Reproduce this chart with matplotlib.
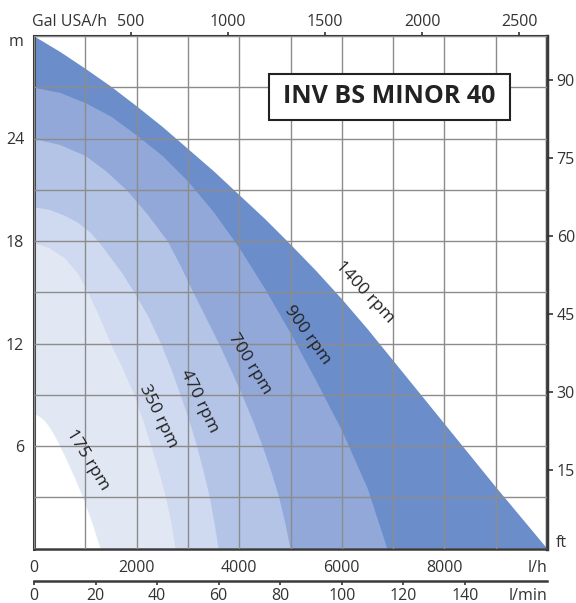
import matplotlib.pyplot as plt
from matplotlib.patches import Rectangle

# pump curves: flow in l/h, head in m
q_1400 = [0, 500, 1000, 1500, 2000, 2500, 3000, 3500, 4000, 4500, 5000,
          5500, 6000, 6500, 7000, 7500, 8000, 8500, 9000, 9500, 10000]
h_1400 = [30, 29.1, 28.1, 27.05, 25.9, 24.7, 23.4, 22.1, 20.7, 19.3, 17.8,
          16.25, 14.6, 12.85, 11.0, 9.15, 7.3, 5.45, 3.6, 1.8, 0]
q_900 = [0, 500, 1000, 1500, 2000, 2500, 3000, 3500, 4000, 4500, 5000,
         5500, 6000, 6500, 6880]
h_900 = [27, 26.7, 26.1, 25.3, 24.2, 23.0, 21.5, 19.7, 17.6, 15.2, 12.6,
         9.8, 6.9, 3.5, 0]
q_700 = [0, 500, 1000, 1400, 1800, 2200, 2600, 2860, 3100, 3350, 3600,
         3830, 4050, 4260, 4450, 4620, 4770, 4890, 4990]
h_700 = [24, 23.65, 23, 22.1, 21, 19.6, 18, 16.5, 15, 13.5, 12,
         10.5, 9, 7.5, 6, 4.5, 3, 1.5, 0]
q_470 = [0, 300, 600, 850, 1100, 1300, 1500, 1720, 1950, 2220, 2470,
         2670, 2850, 3020, 3170, 3300, 3420, 3510, 3590]
h_470 = [20.0, 19.85, 19.5, 19.1, 18.5, 17.8, 17, 16.1, 15, 13.6, 12,
         10.5, 9, 7.5, 6, 4.5, 3, 1.5, 0]
q_350 = [0, 300, 600, 850, 1050, 1280, 1490, 1730, 1950, 2120, 2280,
         2430, 2565, 2670, 2750]
h_350 = [17.9, 17.6, 17.0, 16.1, 15, 13.5, 12, 10.5, 9, 7.5, 6,
         4.5, 3, 1.5, 0]
q_175 = [0, 100, 200, 300, 400, 500, 600, 780, 950, 1130, 1290]
h_175 = [7.9, 7.75, 7.5, 7.1, 6.6, 6.0, 5.4, 4.2, 3, 1.5, 0]

speeds = ['1400 rpm', '900 rpm', '700 rpm', '470 rpm', '350 rpm', '175 rpm']
label_q = [6450, 5320, 4210, 3220, 2420, 1040]
label_h = [15.0, 12.5, 10.8, 8.6, 7.75, 5.2]
label_rot = [-47, -54.5, -58.5, -64, -64, -58.6]

lh_ticks = [0, 2000, 4000, 6000, 8000]
m_ticks = [6, 12, 18, 24]
ft_ticks = [15, 30, 45, 60, 75, 90]
gal_ticks = [500, 1000, 1500, 2000, 2500]
lmin_ticks = [0, 20, 40, 60, 80, 100, 120, 140]

colors = ['#6b8dca', '#91a8d9', '#b4c4e6', '#cfd9ef', '#e2e7f4', 'white']

plt.rcParams['font.family'] = ['Open Sans', 'DejaVu Sans']
txt = '#333333'


def main():
    fig = plt.figure(figsize=(5.76, 6.03), dpi=100)
    ax = fig.add_axes([34 / 576, 54.5 / 603, 513 / 576, 512.5 / 603])
    ax.set_xlim(0, 10000)
    ax.set_ylim(0, 30)

    curves = [(q_1400, h_1400), (q_900, h_900), (q_700, h_700),
              (q_470, h_470), (q_350, h_350), (q_175, h_175)]
    for (q, h), c in zip(curves, colors):
        ax.fill_between(q, h, 0, color=c, lw=0, zorder=1)

    for s, q, h, r in zip(speeds, label_q, label_h, label_rot):
        ax.text(q, h, s, rotation=r, ha='center', va='center',
                fontsize=12.5, color='#222222', zorder=4,
                rotation_mode='anchor')

    # grid every 1000 l/h and 3 m
    ax.set_xticks(range(0, 10001, 1000))
    ax.set_xticklabels([str(v) if v in lh_ticks else '' for v in range(0, 10001, 1000)][:-1] + ['l/h'])
    ax.set_yticks(range(0, 31, 3))
    ax.set_yticklabels([str(v) if v in m_ticks else '' for v in range(0, 31, 3)])
    ax.grid(True, color='#8c8c8c', lw=1)
    ax.set_axisbelow(False)
    ax.tick_params(length=0, labelsize=11.5, colors=txt)
    ax.tick_params(axis='x', pad=8)
    ax.tick_params(axis='y', pad=7)
    ax.get_xticklabels()[-1].set_ha('right')
    ax.text(-0.02, 0.988, 'm', transform=ax.transAxes, ha='right', va='center',
            fontsize=11.5, color=txt)

    for side, lw in [('left', 2.2), ('bottom', 1.8), ('top', 1.5), ('right', 2.5)]:
        ax.spines[side].set_linewidth(lw)
        ax.spines[side].set_color('#3a3a3a')

    # right axis in feet
    axr = ax.twinx()
    axr.set_ylim(0, 30 / 0.3048)
    axr.set_yticks(ft_ticks)
    axr.tick_params(axis='y', length=4, width=1.2, colors=txt, labelsize=11.5, pad=3)
    for side in ['left', 'top', 'bottom', 'right']:
        axr.spines[side].set_visible(False)
    ax.text(1.017, 0.011, 'ft', transform=ax.transAxes, ha='left', va='center',
            fontsize=11.5, color=txt)

    # top axis in US gallons per hour
    axt = ax.twiny()
    axt.set_xlim(0, 10000 / 3.78541)
    axt.set_xticks(gal_ticks)
    axt.tick_params(axis='x', length=3, width=1.2, colors=txt, labelsize=11.5, pad=1.5)
    for side in ['left', 'top', 'bottom', 'right']:
        axt.spines[side].set_visible(False)
    axt.text(0.07, 1.028, 'Gal USA/h', transform=ax.transAxes, ha='center',
             va='center', fontsize=11.5, color=txt)

    # bottom axis in l/min
    axb = ax.twiny()
    axb.set_xlim(0, 10000 / 60)
    axb.xaxis.set_ticks_position('bottom')
    axb.spines['bottom'].set_position(('outward', 23.4))
    axb.spines['bottom'].set_linewidth(1.8)
    axb.spines['bottom'].set_color('#3a3a3a')
    for side in ['left', 'top', 'right']:
        axb.spines[side].set_visible(False)
    axb.set_xticks(lmin_ticks)
    axb.tick_params(axis='x', length=3, width=1.2, colors=txt, labelsize=11.5, pad=2)
    axb.text(1.0, -0.092, 'l/min', transform=ax.transAxes, ha='right',
             va='center', fontsize=11.5, color=txt)

    ax.add_patch(Rectangle((0.458, 0.836), 0.470, 0.0898, transform=ax.transAxes,
                           facecolor='white', edgecolor='#222222', lw=1.5, zorder=5))
    ax.text(0.693, 0.881, 'INV BS MINOR 40', transform=ax.transAxes, ha='center',
            va='center', fontsize=18, fontweight='bold', color='#222222', zorder=6)

    fig.savefig('out.png', dpi=100)


if __name__ == "__main__":
    main()
